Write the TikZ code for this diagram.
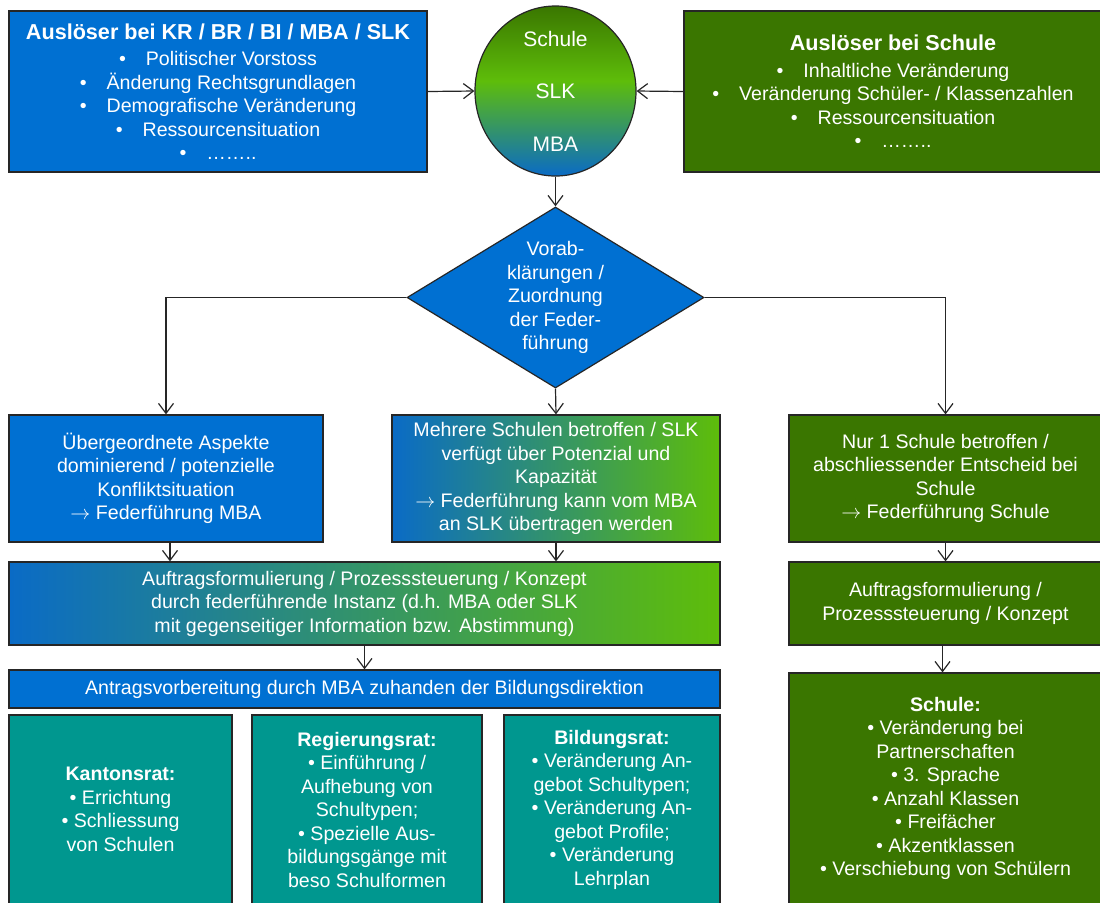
\documentclass[tikz,border=0pt]{standalone}
\usepackage{fontspec}
\setmainfont{Liberation Sans}
\usetikzlibrary{shapes.geometric,arrows.meta}
\definecolor{mbablue}{HTML}{0070D2}
\definecolor{schulgreen}{HTML}{3A7600}
\definecolor{slkgreen}{HTML}{5EBD0A}
\definecolor{gradblue}{HTML}{0A6BC6}
\definecolor{ratteal}{HTML}{00978F}
\pgfdeclareverticalshading{ellshade}{100bp}{color(0bp)=(gradblue); color(25bp)=(gradblue);
	color(53bp)=(slkgreen); color(75bp)=(schulgreen); color(100bp)=(schulgreen)}
\tikzset{
	box/.style={draw=black!85, line width=0.6pt, text=white, align=center, inner sep=0pt,
		font=\fontsize{9.8}{11.75}\selectfont},
	bluebox/.style={box, fill=mbablue},
	greenbox/.style={box, fill=schulgreen},
	gradbox/.style={box, left color=gradblue, right color=slkgreen},
	ratbox/.style={box, fill=ratteal, minimum height=94.5pt},
	arr/.style={-{Straight Barb[length=5pt,width=7.5pt]}, line width=0.6pt, draw=black!85},
}
\newcommand{\titel}[1]{{\fontsize{10.8}{11.75}\selectfont\bfseries #1}\\[1.5pt]}
\newcommand{\pt}{\textbullet\hspace{10pt}}
\begin{document}
\begin{tikzpicture}[x=0.5pt,y=-0.5pt]
		\clip (0,0) rectangle (1100,902);
		\fill[white] (0,0) rectangle (1100,902);
		% Ausloeser
		\node[bluebox, minimum width=209pt, minimum height=80.5pt] (trigL) at (218,91.5)
			{\titel{Auslöser bei KR / BR / BI / MBA / SLK}
			\pt Politischer Vorstoss\\ \pt Änderung Rechtsgrundlagen\\ \pt Demografische Veränderung\\
			\pt Ressourcensituation\\ \pt ……..};
		\node[greenbox, minimum width=209pt, minimum height=80.5pt] (trigR) at (893,91.5)
			{\titel{Auslöser bei Schule}
			\pt Inhaltliche Veränderung\\ \pt Veränderung Schüler- / Klassenzahlen\\
			\pt Ressourcensituation\\ \pt ……..};
		\node[box, ellipse, minimum width=80.5pt, minimum height=83pt, shading=ellshade,
			font=\fontsize{10.5}{11.75}\selectfont] (ell) at (555.5,91)
			{Schule\\[14.5pt]SLK\\[14.5pt]MBA};
		\node[bluebox, diamond, shape aspect=1.64, minimum width=148.5pt, minimum height=90.5pt] (dia) at (555.5,297.5)
			{Vorab-\\klärungen /\\Zuordnung\\der Feder-\\führung};
		% Federfuehrung
		\node[bluebox, minimum width=157pt, minimum height=63.5pt] (boxA) at (166,478.5)
			{Übergeordnete Aspekte\\dominierend / potenzielle\\Konfliktsituation\\$\rightarrow$ Federführung MBA};
		\node[gradbox, minimum width=164pt, minimum height=63.5pt] (boxB) at (556,478.5)
			{Mehrere Schulen betroffen / SLK\\verfügt über Potenzial und\\Kapazität\\$\rightarrow$ Federführung kann vom MBA\\an SLK übertragen werden};
		\node[greenbox, minimum width=156.5pt, minimum height=63.5pt] (boxC) at (945.5,478.5)
			{Nur 1 Schule betroffen /\\abschliessender Entscheid bei\\Schule\\$\rightarrow$ Federführung Schule};
		% Auftrag
		\node[gradbox, minimum width=355.5pt, minimum height=41.5pt] (auf) at (364.5,603.5)
			{Auftragsformulierung / Prozesssteuerung / Konzept\\durch federführende Instanz (d.h. MBA oder SLK\\mit gegenseitiger Information bzw. Abstimmung)};
		\node[greenbox, minimum width=156.5pt, minimum height=41.5pt] (boxD) at (945.5,603.5)
			{Auftragsformulierung /\\Prozesssteuerung / Konzept};
		\node[bluebox, minimum width=355.5pt, minimum height=19pt] (antrag) at (364.5,689)
			{Antragsvorbereitung durch MBA zuhanden der Bildungsdirektion};
		% Zustaendigkeit
		\node[ratbox, minimum width=111.5pt] (kr) at (120.5,809.5)
			{\textbf{Kantonsrat:}\\\textbullet{} Errichtung\\\textbullet{} Schliessung\\von Schulen};
		\node[ratbox, minimum width=115pt] (rr) at (367,809.5)
			{\textbf{Regierungsrat:}\\\textbullet{} Einführung /\\Aufhebung von\\Schultypen;\\\textbullet{} Spezielle Aus-\\bildungsgänge mit\\beso Schulformen};
		\node[ratbox, minimum width=108pt] (br) at (612,809.5)
			{\textbf{Bildungsrat:}\\\textbullet{} Veränderung An-\\gebot Schultypen;\\\textbullet{} Veränderung An-\\gebot Profile;\\\textbullet{} Veränderung\\Lehrplan};
		\node[greenbox, minimum width=156.5pt, minimum height=115.5pt] (boxE) at (945.5,788.5)
			{\textbf{Schule:}\\\textbullet{} Veränderung bei\\Partnerschaften\\\textbullet{} 3. Sprache\\\textbullet{} Anzahl Klassen\\\textbullet{} Freifächer\\\textbullet{} Akzentklassen\\\textbullet{} Verschiebung von Schülern};
		% Pfeile
		\draw[arr] (trigL.east) -- (ell.west);
		\draw[arr] (trigR.west) -- (ell.east);
		\draw[arr] (ell.south) -- (dia.north);
		\draw[arr] (dia.west) -| (boxA.north);
		\draw[arr] (dia.east) -| (boxC.north);
		\draw[arr] (dia.south) -- (boxB.north);
		\draw[arr] ([xshift=2pt]boxA.south) -- ([xshift=2pt]boxA.south |- auf.north);
		\draw[arr] (boxB.south) -- (boxB.south |- auf.north);
		\draw[arr] (auf.south) -- (antrag.north);
		\draw[arr] (boxC.south) -- (boxD.north);
		\draw[arr] ([xshift=-1.5pt]boxD.south) -- ([xshift=-1.5pt]boxE.north);
\end{tikzpicture}
\end{document}
